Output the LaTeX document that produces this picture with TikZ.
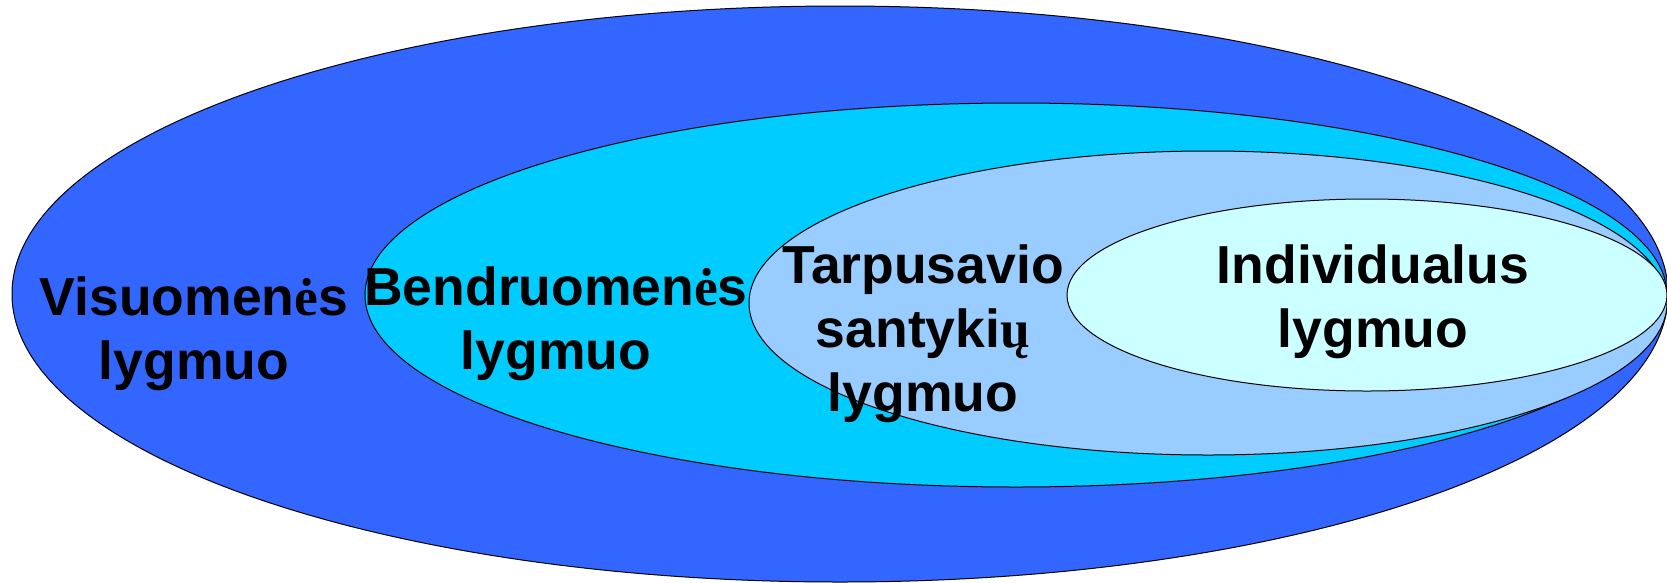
\documentclass[tikz,border=0pt]{standalone}
\usepackage{fontspec}
\setmainfont{Liberation Sans}
\newfontfamily\serifb{Liberation Serif}
\usetikzlibrary{shapes.geometric}
\definecolor{cSoc}{HTML}{3366FF}
\definecolor{cCom}{HTML}{00CCFF}
\definecolor{cRel}{HTML}{99CCFF}
\definecolor{cInd}{HTML}{CCFFFF}
\tikzset{
  lvl/.style={ellipse, draw=black, line width=1pt, inner sep=0pt},
  lbl/.style={anchor=base, inner sep=0pt, font=\fontsize{53.5}{64}\selectfont\bfseries}
}
\newcommand{\lines}[1]{\def\arraystretch{1}\begin{tabular}[t]{@{}c@{}}#1\end{tabular}}
\begin{document}
\begin{tikzpicture}[x=1pt,y=-1pt]
\useasboundingbox (0,0) rectangle (1667,582);
\clip (0,0) rectangle (1667,582);
\node[lvl, fill=cSoc, minimum width=1656pt, minimum height=576pt] (soc) at (840,294) {};
\node[lvl, fill=cCom, minimum width=1302pt, minimum height=384pt] (com) at (1016,295) {};
\node[lvl, fill=cRel, minimum width=918pt, minimum height=304pt] (rel) at (1208,303) {};
\node[lvl, fill=cInd, minimum width=600pt, minimum height=192pt] (ind) at (1367,295) {};
\node[lbl] (tsoc) at (194,315) {\lines{Visuomen{\serifb ė}s\\lygmuo}};
\node[lbl] (tcom) at (556,305) {\lines{Bendruomen{\serifb ė}s\\lygmuo}};
\node[lbl] (trel) at (923,283) {\lines{Tarpusavio\\santyki{\serifb ų}\\lygmuo}};
\node[lbl] (tind) at (1373,283) {\lines{Individualus\\lygmuo}};
\end{tikzpicture}
\end{document}
